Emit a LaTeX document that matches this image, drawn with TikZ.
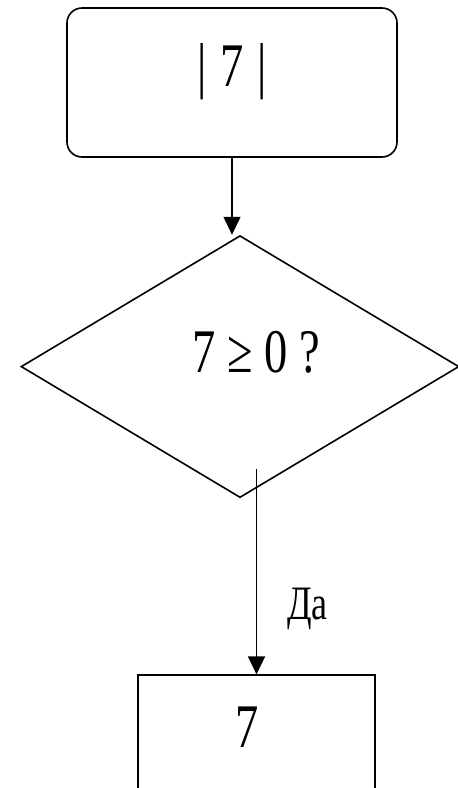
\documentclass[tikz,border=0pt]{standalone}
\usepackage{fontspec}
\usepackage{graphicx}
\setmainfont{Liberation Serif}
\usetikzlibrary{positioning,shapes.geometric,arrows.meta}
\newcommand\squeeze[1]{\scalebox{0.75}[1]{#1}}
\begin{document}
\begin{tikzpicture}[
  x=1pt, y=-1pt,
  line width=1.6pt,
  roundbox/.style={draw, rounded corners=15pt, minimum width=330pt, minimum height=149pt, inner sep=0pt, font=\fontsize{62}{62}\selectfont},
  decision/.style={draw, diamond, minimum width=438pt, minimum height=262pt, inner sep=0pt, font=\fontsize{62}{62}\selectfont},
  plainbox/.style={draw, minimum width=237pt, minimum height=115pt, inner sep=0pt, font=\fontsize{62}{62}\selectfont},
  arrow/.style={-{Triangle[length=18pt,width=17pt]}, line width=1.4pt},
  answer/.style={font=\fontsize{48}{48}\selectfont, inner sep=0pt}
]
\useasboundingbox (0,0) rectangle (458,788);

\node[roundbox, text height=45pt, text depth=37pt] (absval) at (232,82.5) {\squeeze{|\hspace{18pt}7\hspace{18pt}|}};
\node[decision, text height=45pt, text depth=34pt, below=77pt of absval, xshift=8pt] (check) {\hspace*{32pt}\squeeze{7 ≥ 0 ?}};
\node[plainbox, text height=45pt, text depth=15pt, below=176pt of check, xshift=16.5pt] (result) {\squeeze{7}\hspace*{18pt}};

\draw[arrow] (absval.south) -- (absval.south |- check.north);
\draw[arrow] ([yshift=29pt]check.south -| result.north) -- node[answer, pos=0.68, right=30pt] (yes) {\squeeze{Да}} (result.north);
\end{tikzpicture}
\end{document}
